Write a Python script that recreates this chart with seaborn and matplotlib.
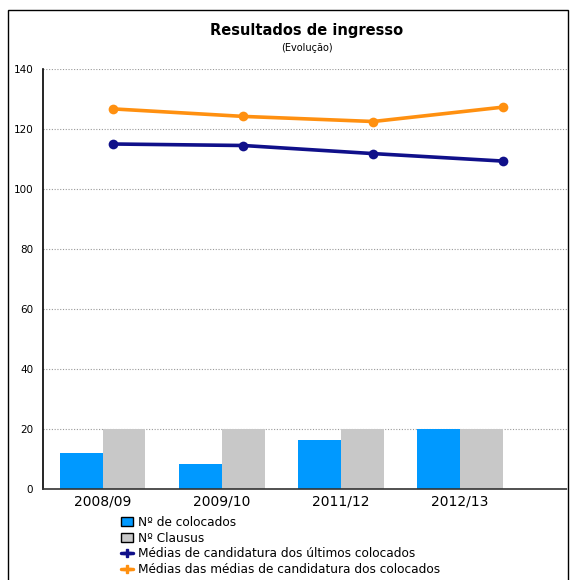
import matplotlib
matplotlib.use("Agg")
import matplotlib.pyplot as plt
import seaborn as sns
import pandas as pd
from matplotlib.patches import Patch, Rectangle
from matplotlib.lines import Line2D

anos = ["2008/09", "2009/10", "2011/12", "2012/13"]
colocados = [12, 8.3, 16.3, 20]
clausus = [20, 20, 20, 20]
ultimos = [115, 114.5, 111.8, 109.3]
medias = [126.7, 124.2, 122.5, 127.3]

serie_bar = ["Nº de colocados", "Nº Clausus"]
serie_line = ["Médias de candidatura dos últimos colocados",
              "Médias das médias de candidatura dos colocados"]
cores_bar = ["#0099FF", "#C8C8C8"]
cores_line = ["#10108A", "#FF9010"]

sns.set_theme(style="white")
plt.rcParams["font.family"] = ["DejaVu Sans"]
plt.rcParams["text.color"] = "black"
plt.rcParams["xtick.color"] = "black"
plt.rcParams["ytick.color"] = "black"

df_bar = pd.DataFrame({
    "ano": anos * 2,
    "valor": colocados + clausus,
    "serie": [serie_bar[0]] * 4 + [serie_bar[1]] * 4,
})
df_line = pd.DataFrame({
    "ano": anos * 2,
    "valor": ultimos + medias,
    "serie": [serie_line[0]] * 4 + [serie_line[1]] * 4,
})

fig = plt.figure(figsize=(5.72, 5.8), dpi=100)
ax = fig.add_axes([43/572, 1-489/580, (567-43)/572, (489-69)/580])

sns.barplot(data=df_bar, x="ano", y="valor", hue="serie", palette=cores_bar,
            saturation=1, width=0.72, gap=0, ax=ax, legend=False, linewidth=0)
ax.set_xlim(-0.5, 3.9)
ax.set_ylim(0, 140)
ax.set_yticks(range(0, 141, 20))
ax.set_xlabel("")
ax.set_ylabel("")
ax.grid(axis="y", color="#999999", linestyle=(0, (1, 1.5)), linewidth=0.8)
ax.set_axisbelow(True)
ax.tick_params(axis="y", length=0, labelsize=7.5, pad=7)
ax.tick_params(axis="x", length=0, labelsize=10, pad=4)
for s in ["top", "right"]:
    ax.spines[s].set_visible(False)
ax.spines["left"].set_color("black")
ax.spines["left"].set_linewidth(1.2)
ax.spines["bottom"].set_color("#333333")
ax.spines["bottom"].set_linewidth(1.2)
ax.spines["bottom"].set_linestyle((0, (2, 1)))

ax2 = ax.twiny()
sns.lineplot(data=df_line, x="ano", y="valor", hue="serie", palette=cores_line,
             marker="o", markersize=7, markeredgewidth=0, linewidth=2.6,
             ax=ax2, legend=False, sort=False)
ax2.set_xlim(-0.54, 3.49)
ax2.set_ylim(0, 140)
ax2.set_xticks([])
ax2.set_xlabel("")
ax2.set_ylabel("")
for s in ax2.spines.values():
    s.set_visible(False)

fig.text(307/572, 1-31/580, "Resultados de ingresso", ha="center", va="center",
         fontsize=10.5, fontweight="bold", color="black")
fig.text(307/572, 1-48/580, "(Evolução)", ha="center", va="center", fontsize=7,
         color="black")

# outer frame
fig.add_artist(Rectangle((8/572, -0.01), 560/572, 1-10/580+0.01, transform=fig.transFigure,
                         fill=False, edgecolor="black", linewidth=1.0))

handles = [Patch(facecolor=cores_bar[0], edgecolor="black", linewidth=1),
           Patch(facecolor=cores_bar[1], edgecolor="black", linewidth=1),
           Line2D([], [], color=cores_line[0], marker="P", markersize=6, linewidth=2.5),
           Line2D([], [], color=cores_line[1], marker="P", markersize=6, linewidth=2.5)]
fig.legend(handles, serie_bar + serie_line, loc="upper left",
           bbox_to_anchor=(121/572, 1-516/580), frameon=False, fontsize=8.7,
           handlelength=1.0, handleheight=0.8, handletextpad=0.4,
           labelspacing=0.22, borderaxespad=0, borderpad=0)

fig.savefig("out.png", dpi=100)
